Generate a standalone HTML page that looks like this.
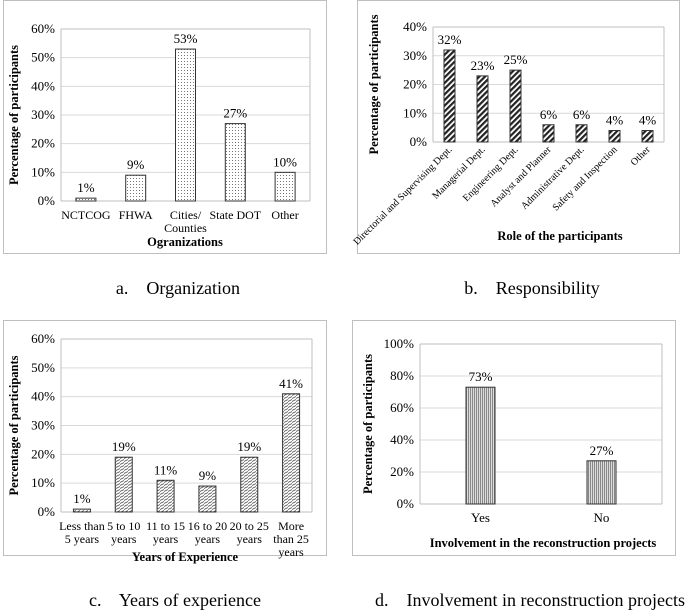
<!DOCTYPE html>
<html><head><meta charset="utf-8"><style>
body{margin:0;background:#fff;}
svg{display:block;font-family:"Liberation Serif",serif;}
</style></head><body>
<svg id="s" width="685" height="611"></svg>
<script>
const orgCats=["NCTCOG","FHWA","Cities/|Counties","State DOT","Other"];
const orgVals=[1,9,53,27,10];
const orgTicks=[0,10,20,30,40,50,60];
const roleCats=["Directorial and Supervising Dept.","Managerial Dept.","Engineering Dept.","Analyst and Planner","Administrative Dept.","Safety and Inspection","Other"];
const roleVals=[32,23,25,6,6,4,4];
const roleTicks=[0,10,20,30,40];
const expCats=["Less than|5 years","5 to 10|years","11 to 15|years","16 to 20|years","20 to 25|years","More|than 25|years"];
const expVals=[1,19,11,9,19,41];
const expTicks=[0,10,20,30,40,50,60];
const invCats=["Yes","No"];
const invVals=[73,27];
const invTicks=[0,20,40,60,80,100];

const NS="http://www.w3.org/2000/svg";
const svg=document.getElementById('s');
function el(tag,attrs,parent,text){const e=document.createElementNS(NS,tag);for(const k in attrs)e.setAttribute(k,attrs[k]);if(text!==undefined)e.textContent=text;(parent||svg).appendChild(e);return e;}
const defs=el('defs',{});
defs.innerHTML=`<pattern id="dots" width="3" height="3" patternUnits="userSpaceOnUse"><rect width="3" height="3" fill="#fff"/><rect x="1" y="1" width="1" height="1" fill="#777"/></pattern>
<pattern id="diag" width="4" height="4" patternUnits="userSpaceOnUse" patternTransform="rotate(45)"><rect width="4" height="4" fill="#fff"/><rect width="2.2" height="4" fill="#222"/></pattern>
<pattern id="zig" width="4" height="3" patternUnits="userSpaceOnUse"><rect width="4" height="3" fill="#fff"/><path d="M0,2.5 L4,0.5" stroke="#555" stroke-width="0.8"/></pattern>
<pattern id="vert" width="2" height="2" patternUnits="userSpaceOnUse"><rect width="2" height="2" fill="#ddd"/><rect width="1" height="2" fill="#888"/></pattern>`;

function chart(o){
  const g=el('g',{},svg);
  
  
  const f=el('rect',{x:o.frame[0],y:o.frame[1],width:o.frame[2],height:o.frame[3],fill:'none',stroke:'#bfbfbf','stroke-width':1},g);
  
  const max=o.ticks[o.ticks.length-1];
  const y=v=>o.y0-(v/max)*(o.y0-o.yTop);
  o.ticks.forEach(t=>{
    if(t>0){const l=el('line',{x1:o.x0,x2:o.x1,y1:y(t),y2:y(t),stroke:'#d9d9d9'},g);}
    const tx=el('text',{x:o.x0-6,y:y(t)+4,'text-anchor':'end','font-size':13},g,t+'%');
    
  });
  el('line',{x1:o.x0,x2:o.x1,y1:o.yTop,y2:o.yTop,stroke:'#bfbfbf'},g);
  el('line',{x1:o.x1,x2:o.x1,y1:o.yTop,y2:o.y0,stroke:'#bfbfbf'},g);
  el('line',{x1:o.x0,x2:o.x0,y1:o.yTop,y2:o.y0,stroke:'#bfbfbf'},g);
  el('line',{x1:o.x0,x2:o.x1,y1:o.y0,y2:o.y0,stroke:'#bfbfbf'},g);
  const n=o.cats.length,cw=(o.x1-o.x0)/n;
  o.cats.forEach((c,i)=>{
    const cx=o.x0+cw*(i+0.5),v=o.vals[i];
    const b=el('rect',{x:cx-o.bw/2,y:y(v),width:o.bw,height:o.y0-y(v),fill:'url(#'+o.pat+')',stroke:'#333','stroke-width':1},g);
    
    const vl=el('text',{x:cx,y:y(v)-6,'text-anchor':'middle','font-size':13},g,v+'%');
    
    if(o.rot){
      const t=el('text',{x:cx+3,y:o.y0+8,'text-anchor':'end','font-size':10,transform:`rotate(-45 ${cx+3} ${o.y0+8})`},g,c);
      
    } else {
      c.split('|').forEach((p,k)=>{
        const t=el('text',{x:cx,y:o.y0+18+k*13,'text-anchor':'middle','font-size':o.xfs||13},g,p);
        
      });
    }
  });
  const yt=el('text',{x:0,y:0,'text-anchor':'middle','font-size':12.5,'font-weight':'bold',transform:`translate(${o.ytX},${(o.yTop+o.y0)/2}) rotate(-90)`},g,'Percentage of participants');
  
  const xt=el('text',{x:o.xt[0],y:o.xt[1],'text-anchor':'middle','font-size':12.5,'font-weight':'bold'},g,o.xtitle);
  
  const cap=el('text',{x:o.cap[0],y:o.cap[1],'text-anchor':'middle','font-size':18,'xml:space':'preserve',style:'white-space:pre'},svg,o.caption);
  
}
chart({name:'organization-chart',frame:[3.5,0.5,323,253],x0:61,x1:310,yTop:29,y0:201,ticks:orgTicks,cats:orgCats,vals:orgVals,bw:20,pat:'dots',xfs:12,ytX:18,xt:[185,246],xtitle:'Ogranizations',cap:[178,294],caption:'a.    Organization'});
chart({name:'responsibility-chart',frame:[357.5,0.5,322,253],x0:433,x1:664,yTop:27,y0:142,ticks:roleTicks,cats:roleCats,vals:roleVals,bw:11,pat:'diag',rot:true,ytX:378,xt:[560,240],xtitle:'Role of the participants',cap:[532,294],caption:'b.    Responsibility'});
chart({name:'experience-chart',frame:[3.5,320.5,323,235],x0:61,x1:312,yTop:339,y0:512,ticks:expTicks,cats:expCats,vals:expVals,bw:17,pat:'zig',xfs:12,ytX:18,xt:[185,561],xtitle:'Years of Experience',cap:[175,606],caption:'c.    Years of experience'});
chart({name:'involvement-chart',frame:[352.5,320.5,323,235],x0:420,x1:662,yTop:344,y0:504,ticks:invTicks,cats:invCats,vals:invVals,bw:29,pat:'vert',ytX:372,xt:[543,547],xtitle:'Involvement in the reconstruction projects',cap:[530,606],caption:'d.    Involvement in reconstruction projects'});
</script>
</body></html>
